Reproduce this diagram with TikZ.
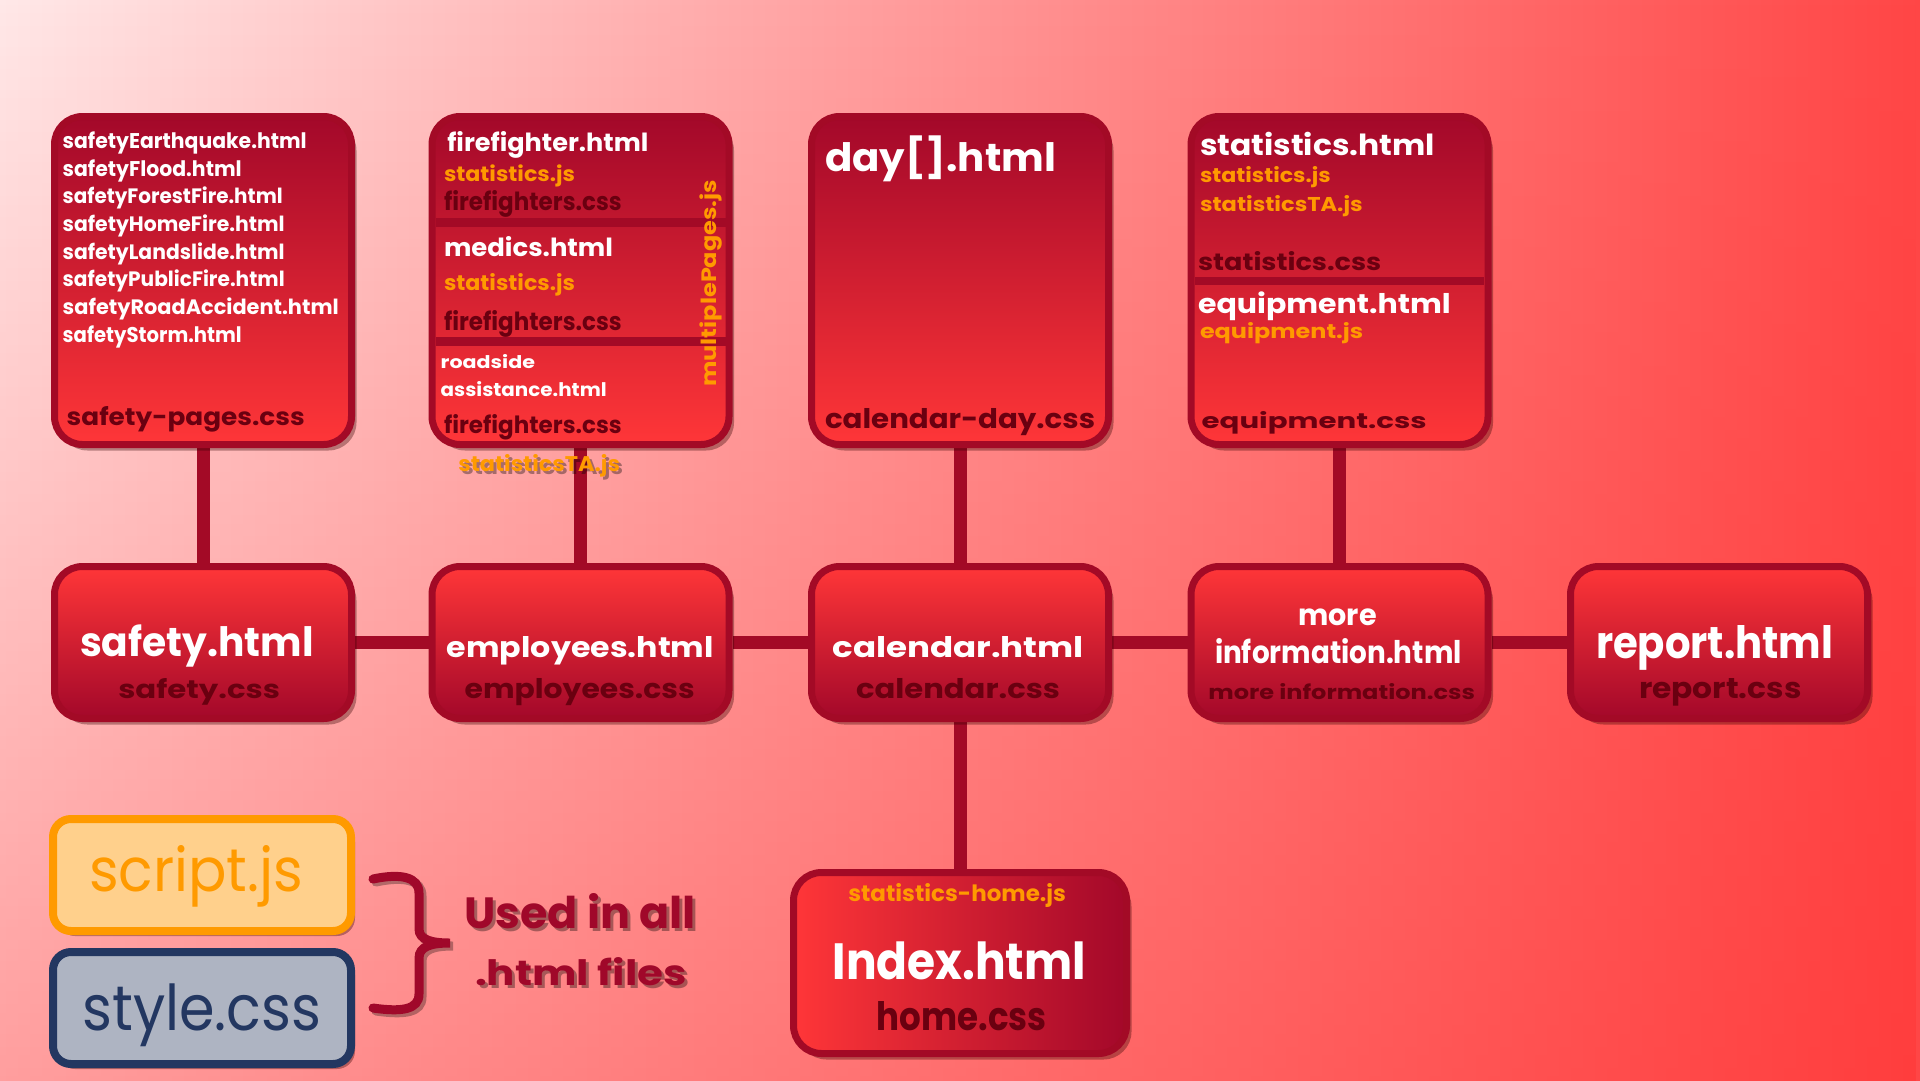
\documentclass[tikz,border=0pt]{standalone}
\usepackage{fontspec}
\setmainfont{Poppins}
\usepackage{graphicx}
\usetikzlibrary{shadows,fadings}

\definecolor{frame}{HTML}{A30A26}
\definecolor{darkred}{HTML}{A3082A}
\definecolor{brightred}{HTML}{FF3638}
\definecolor{cssred}{HTML}{6A0010}
\definecolor{jsorange}{HTML}{FF9A00}
\definecolor{bglight}{HTML}{FFE8E8}
\definecolor{bgmid}{HTML}{FFA0A0}
\definecolor{bgred}{HTML}{FF4646}
\definecolor{bgdeep}{HTML}{FF3030}
\definecolor{jsfill}{HTML}{FFD08C}
\definecolor{cssfill}{HTML}{AEB4C2}
\definecolor{navy}{HTML}{233761}
\definecolor{notered}{HTML}{A0082A}

% scale a label to a given width and height (in pt)
\newcommand{\fitto}[3]{\resizebox{#1pt}{#2pt}{#3}}

\pgfdeclarelayer{back}
\pgfdeclarelayer{links}
\pgfsetlayers{back,links,main}

\tikzset{
  box/.style={rounded corners=28pt, draw=frame, line width=7pt,
    drop shadow={shadow xshift=5pt, shadow yshift=-6pt, opacity=0.35, fill=black!80!red}},
  topbox/.style={box, top color=darkred, bottom color=brightred,
    minimum width=297pt, minimum height=328pt},
  midbox/.style={box, top color=brightred, bottom color=darkred,
    minimum width=297pt, minimum height=152pt},
  homebox/.style={box, left color=brightred, right color=darkred,
    minimum width=333pt, minimum height=181pt},
  keybox/.style={rounded corners=18pt, line width=8pt,
    minimum width=298pt, minimum height=112pt,
    drop shadow={shadow xshift=4pt, shadow yshift=-5pt, opacity=0.35, fill=black!80!red}},
  lbl/.style={inner sep=0pt, outer sep=0pt, anchor=base west},
  html/.style={lbl, text=white, font=\bfseries},
  css/.style={lbl, text=cssred, font=\bfseries},
  js/.style={lbl, text=jsorange, font=\bfseries},
  shadowtext/.style={lbl, text=black, opacity=0.35, font=\bfseries},
  link/.style={draw=frame, line width=13pt},
  divider/.style={fill=frame},
}

\begin{document}
\begin{tikzpicture}[x=1pt, y=-1pt]
\useasboundingbox (0,0) rectangle (1920,1080);

% background wash: light top-left, deepening to red on the right and lower edge
\begin{pgfonlayer}{back}
  \shade[left color=bglight, middle color=bgmid, right color=bgred]
    (0,0) rectangle (1920,1080);
  \fill[bgdeep, path fading=north, fill opacity=0.4] (0,0) rectangle (1920,1080);
\end{pgfonlayer}

% ---------- page boxes ----------
\node[topbox] (safetypages) at (203,280.5) {};
\node[topbox] (staff)       at (580.5,280.5) {};
\node[topbox] (days)        at (960,280.5) {};
\node[topbox] (info)        at (1339.5,280.5) {};

\node[midbox] (safety)    at (203,642.5) {};
\node[midbox] (employees) at (580.5,642.5) {};
\node[midbox] (calendar)  at (960,642.5) {};
\node[midbox] (moreinfo)  at (1339.5,642.5) {};
\node[midbox] (report)    at (1719,642.5) {};

\node[homebox] (index) at (960,963) {};

\node[keybox, draw=jsorange, fill=jsfill] (scriptjs) at (202,875) {};
\node[keybox, draw=navy, fill=cssfill] (stylecss) at (202,1008) {};

% ---------- connectors ----------
\begin{pgfonlayer}{links}
  \draw[link] (safetypages.south) -- (safety.north);
  \draw[link] (staff.south) -- (employees.north);
  \draw[link] (days.south) -- (calendar.north);
  \draw[link] (info.south) -- (moreinfo.north);
  \draw[link] (safety.east) -- (employees.west);
  \draw[link] (employees.east) -- (calendar.west);
  \draw[link] (calendar.east) -- (moreinfo.west);
  \draw[link] (moreinfo.east) -- (report.west);
  \draw[link] (calendar.south) -- (index.north);
\end{pgfonlayer}

% section dividers
\fill[divider] (436,218.3) rectangle (728,226.7);
\fill[divider] (436,337.3) rectangle (728,346);
\fill[divider] (1195,276.7) rectangle (1484,285);

% ---------- safety pages ----------
\node[html] (s1) at (62.7,148.3) {\fitto{244}{16.7}{safetyEarthquake.html}};
\node[html] (s2) at (62.7,176)   {\fitto{179}{16.7}{safetyFlood.html}};
\node[html] (s3) at (62.7,203.7) {\fitto{220}{16.7}{safetyForestFire.html}};
\node[html] (s4) at (62.7,231.4) {\fitto{222}{16.7}{safetyHomeFire.html}};
\node[html] (s5) at (62.7,259.1) {\fitto{222}{16.7}{safetyLandslide.html}};
\node[html] (s6) at (62.7,286.8) {\fitto{222}{16.7}{safetyPublicFire.html}};
\node[html] (s7) at (62.7,314.5) {\fitto{276}{16.7}{safetyRoadAccident.html}};
\node[html] (s8) at (62.7,342.2) {\fitto{179}{16.7}{safetyStorm.html}};
\node[css]  (s9) at (66.7,425)   {\fitto{238}{19}{safety-pages.css}};

% ---------- staff pages ----------
\node[html] (f1) at (447.3,151.7) {\fitto{201}{20}{firefighter.html}};
\node[js]   (f2) at (444,181.7)   {\fitto{131}{16.7}{statistics.js}};
\node[css]  (f3) at (444,210)     {\fitto{177.7}{20}{firefighters.css}};
\node[html] (m1) at (444,256.7)   {\fitto{169}{20}{medics.html}};
\node[js]   (m2) at (444,290)     {\fitto{131}{17}{statistics.js}};
\node[css]  (m3) at (444,330)     {\fitto{177.7}{20}{firefighters.css}};
\node[html] (r1) at (440.7,368.3) {\fitto{94.3}{14}{roadside}};
\node[html] (r2) at (440.7,396)   {\fitto{166}{15}{assistance.html}};
\node[css]  (r3) at (444,433.3)   {\fitto{177.7}{19}{firefighters.css}};
\node[shadowtext] (tashadow) at (461.3,474.7) {\fitto{161.7}{17}{statisticsTA.js}};
\node[js]   (ta) at (458.3,471.7) {\fitto{161.7}{17}{statisticsTA.js}};
\node[js, rotate=90] (multi) at (716.7,386.7) {\fitto{206.7}{16.7}{multiplePages.js}};

% ---------- calendar day ----------
\node[html] (d1) at (825,171.7) {\fitto{231}{35.7}{day[].html}};
\node[css]  (d2) at (825,428.3) {\fitto{270}{20}{calendar-day.css}};

% ---------- statistics / equipment ----------
\node[html] (i1) at (1200,155)   {\fitto{235}{23.3}{statistics.html}};
\node[js]   (i2) at (1200,182.7) {\fitto{130.7}{16}{statistics.js}};
\node[js]   (i3) at (1200,211)   {\fitto{162.7}{16}{statisticsTA.js}};
\node[css]  (i4) at (1198,270)   {\fitto{183.3}{19}{statistics.css}};
\node[html] (i5) at (1198,313.3) {\fitto{252.7}{21.7}{equipment.html}};
\node[js]   (i6) at (1200,338.3) {\fitto{163.3}{16}{equipment.js}};
\node[css]  (i7) at (1201.7,428.3) {\fitto{225}{17}{equipment.css}};

% ---------- main row ----------
\node[html] (a1) at (80,656.7)    {\fitto{233.5}{31.7}{safety.html}};
\node[css]  (a2) at (118.3,698.3) {\fitto{161.7}{20}{safety.css}};
\node[html] (b1) at (446.9,657.3) {\fitto{266.9}{21}{employees.html}};
\node[css]  (b2) at (464.7,698.5) {\fitto{230}{20}{employees.css}};
\node[html] (c1) at (832.4,657.3) {\fitto{251.5}{21}{calendar.html}};
\node[css]  (c2) at (856,698.5)   {\fitto{204}{20}{calendar.css}};
\node[html] (e0) at (1298.3,625)  {\fitto{78.4}{16.7}{more}};
\node[html] (e1) at (1215,663.3)  {\fitto{246.7}{25}{information.html}};
\node[css]  (e2) at (1208.3,699.3) {\fitto{266.7}{16}{more information.css}};
\node[html] (g1) at (1596,658.3)  {\fitto{237.3}{33}{report.html}};
\node[css]  (g2) at (1639,698.5)  {\fitto{162.6}{20}{report.css}};

% ---------- home ----------
\node[js]   (h1) at (848.3,901.7) {\fitto{217.7}{18}{statistics-home.js}};
\node[html] (h2) at (832.7,979.3) {\fitto{253.3}{37.7}{Index.html}};
\node[css]  (h3) at (876.7,1030.7) {\fitto{170}{29}{home.css}};

% ---------- shared files ----------
\node[lbl, text=jsorange] (k1) at (89,891.7)  {\fitto{214}{46}{script.js}};
\node[lbl, text=navy]     (k2) at (82.4,1030) {\fitto{239}{46.7}{style.css}};

% brace and note
\draw[line width=9pt, black, opacity=0.3, line cap=round]
  (376,882) .. controls (404,876) and (422,880) .. (422,896) -- (422,932)
  .. controls (422,943) and (435,946) .. (453,946)
  .. controls (435,946) and (422,949) .. (422,961) -- (422,997)
  .. controls (422,1013) and (404,1015) .. (376,1011);
\draw[line width=9pt, notered, line cap=round]
  (373,879) .. controls (401,873) and (419,877) .. (419,893) -- (419,929)
  .. controls (419,940) and (432,943) .. (450,943)
  .. controls (432,943) and (419,946) .. (419,958) -- (419,994)
  .. controls (419,1010) and (401,1012) .. (373,1008);

\node[shadowtext] (u0) at (467,931.3) {\fitto{232}{35}{Used in all}};
\node[lbl, text=notered, font=\bfseries] (u1) at (464,928.3) {\fitto{232}{35}{Used in all}};
\node[shadowtext] (v0) at (478,988) {\fitto{212}{28}{.html files}};
\node[lbl, text=notered, font=\bfseries] (v1) at (475,985) {\fitto{212}{28}{.html files}};
\end{tikzpicture}
\end{document}
